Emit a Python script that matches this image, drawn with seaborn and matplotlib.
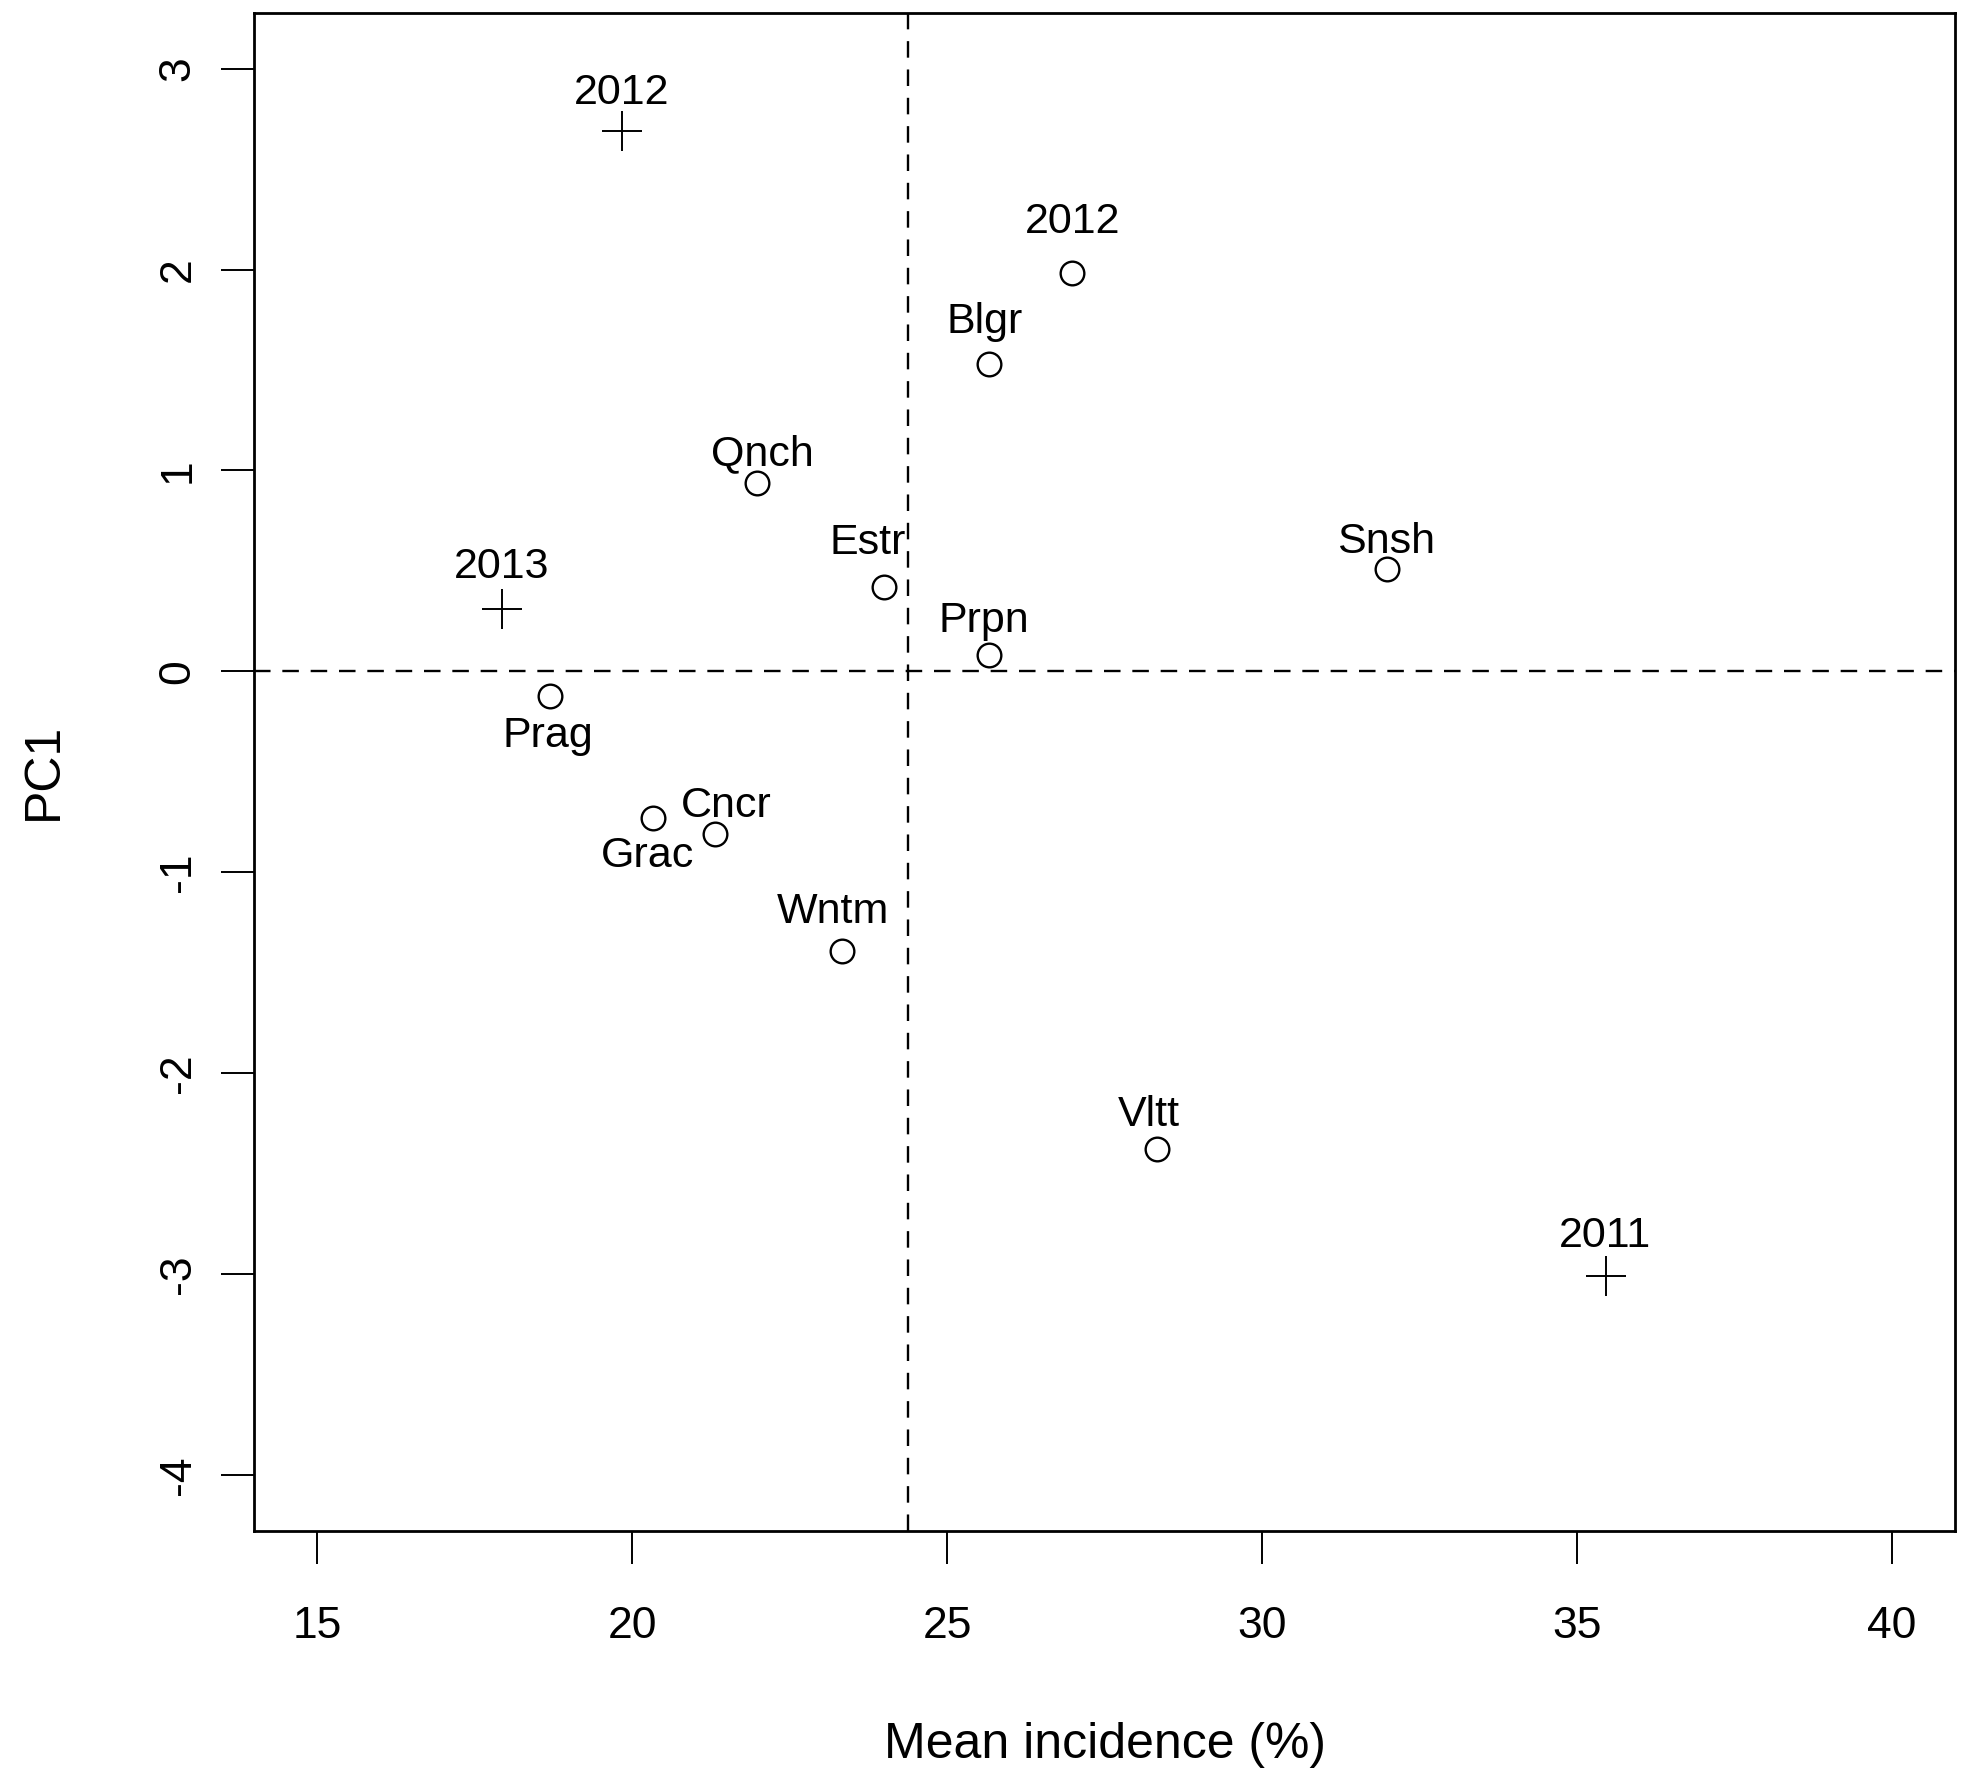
import matplotlib
matplotlib.use("Agg")
import matplotlib.pyplot as plt
import seaborn as sns
import pandas as pd

# ---------------- data ----------------
circle_labels = ["2012", "Blgr", "Qnch", "Estr", "Prpn", "Snsh",
                 "Prag", "Grac", "Cncr", "Wntm", "Vltt"]
circle_x = [26.99, 25.66, 21.99, 24.00, 25.66, 31.99,
            18.69, 20.34, 21.31, 23.33, 28.33]
circle_y = [1.985, 1.53, 0.94, 0.42, 0.08, 0.51,
            -0.125, -0.73, -0.81, -1.39, -2.38]

cross_labels = ["2012", "2013", "2011"]
cross_x = [19.84, 17.93, 35.46]
cross_y = [2.69, 0.31, -3.01]

mean_incidence = 24.38
x_ticks = [15, 20, 25, 30, 35, 40]
x_tick_labels = ["15", "20", "25", "30", "35", "40"]
y_ticks = [-4, -3, -2, -1, 0, 1, 2, 3]
y_tick_labels = ["-4", "-3", "-2", "-1", "0", "1", "2", "3"]

# label offsets (points) relative to marker: (dx, dy of text centre)
circle_offsets = [(0, 44), (-3, 37), (4, 26), (-13, 38), (-4, 31), (-1, 25),
                  (-1, -28), (-5, -27), (9, 26), (-7, 34), (-6, 31)]
cross_offsets = [(0, 34), (0, 37), (-1, 35)]

# ---------------- style ----------------
sns.set_theme(style="white")
plt.rcParams["font.family"] = ["Liberation Sans", "DejaVu Sans"]
plt.rcParams["axes.unicode_minus"] = False

fig = plt.figure(figsize=(19.71, 17.89), dpi=100)
ax = fig.add_axes([0.1289, 0.1442, 0.863, 0.8488])

circ_df = pd.DataFrame({"x": circle_x, "y": circle_y, "label": circle_labels})
cross_df = pd.DataFrame({"x": cross_x, "y": cross_y, "label": cross_labels})

ax.axhline(0, color="black", lw=1.7, ls=(0, (7, 5)), zorder=1)
ax.axvline(mean_incidence, color="black", lw=1.7, ls=(0, (7, 5)), zorder=1)

sns.scatterplot(data=circ_df, x="x", y="y", ax=ax, marker="o", s=290,
                facecolor="white", edgecolor="black", linewidth=1.7, zorder=3)
sns.scatterplot(data=cross_df, x="x", y="y", ax=ax, marker="+", s=800,
                color="black", linewidth=1.4, zorder=3)

scale = 0.905
half_cap = 11.0
for lab, xx, yy, (dx, dy) in zip(circle_labels, circle_x, circle_y, circle_offsets):
    ax.annotate(lab, (xx, yy), xytext=(dx * scale, dy * scale - half_cap),
                textcoords="offset points", ha="center", va="baseline",
                fontsize=31, color="black")
for lab, xx, yy, (dx, dy) in zip(cross_labels, cross_x, cross_y, cross_offsets):
    ax.annotate(lab, (xx, yy), xytext=(dx * scale, dy * scale - half_cap),
                textcoords="offset points", ha="center", va="baseline",
                fontsize=31, color="black")

ax.set_xlim(14.0, 41.0)
ax.set_ylim(-4.28, 3.28)
ax.set_xticks(x_ticks)
ax.set_xticklabels(x_tick_labels)
ax.set_yticks(y_ticks)
ax.set_yticklabels(y_tick_labels, rotation=90, va="center")

ax.tick_params(axis="both", which="major", direction="out", length=24,
               width=1.4, color="black", labelsize=32, labelcolor="black",
               bottom=True, left=True)
ax.tick_params(axis="x", pad=30)
ax.tick_params(axis="y", pad=16)

for sp in ax.spines.values():
    sp.set_visible(True)
    sp.set_color("black")
    sp.set_linewidth(2.0)

ax.set_xlabel("Mean incidence (%)", fontsize=36, color="black")
ax.set_ylabel("PC1", fontsize=36, color="black")
ax.xaxis.set_label_coords(0.5, -0.141)
ax.xaxis.label.set_va("center")
ax.yaxis.set_label_coords(-0.1235, 0.5)
ax.yaxis.label.set_va("center")

fig.savefig("out.png", dpi=100, facecolor="white")
